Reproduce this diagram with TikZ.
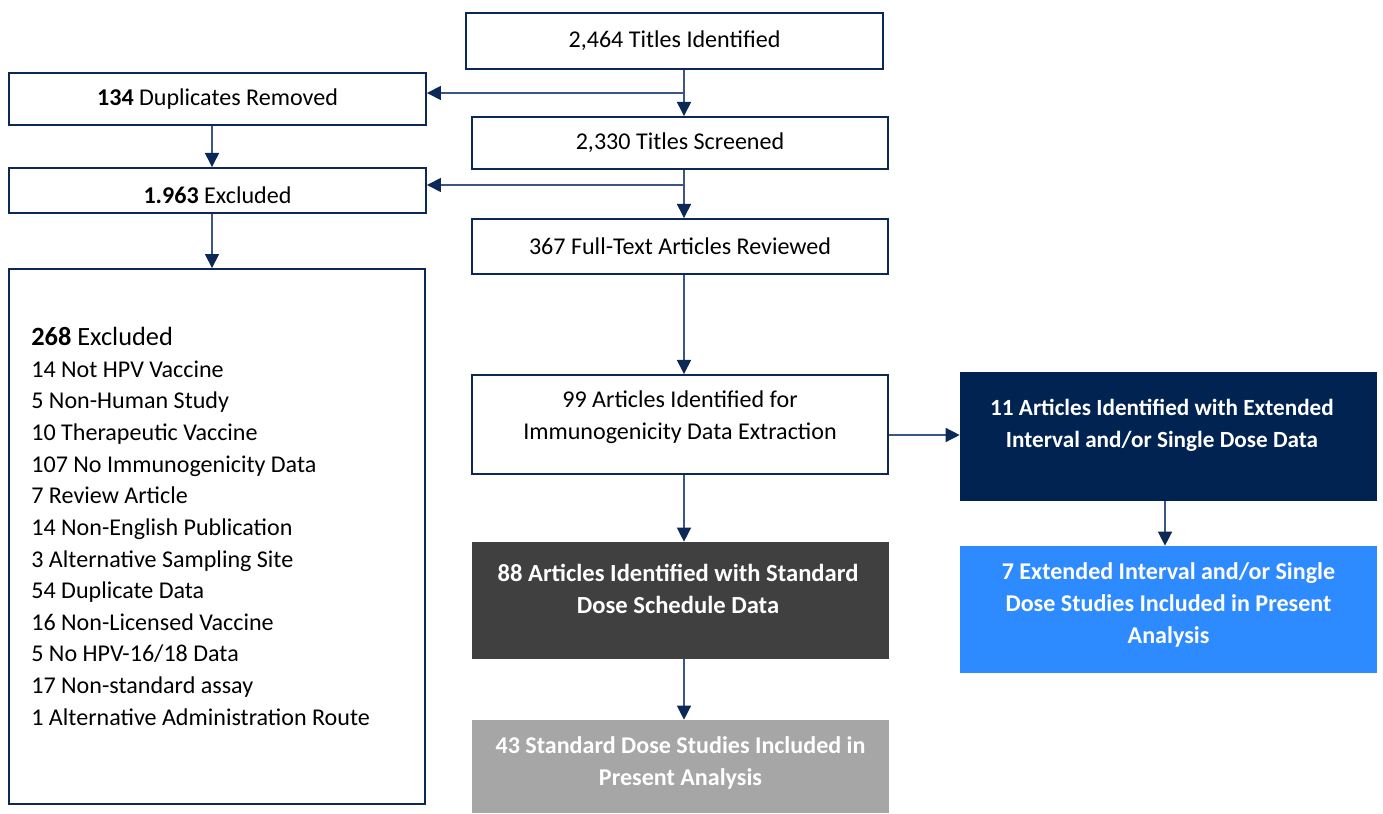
\documentclass[tikz,border=0pt]{standalone}
\usepackage{fontspec}
\setmainfont{Carlito}
\usetikzlibrary{arrows.meta}

\definecolor{navy}{HTML}{0B2856}
\definecolor{linecol}{HTML}{3B5682}
\definecolor{darkbox}{HTML}{012352}
\definecolor{graybox}{HTML}{404040}
\definecolor{lightbox}{HTML}{A6A6A6}
\definecolor{bluebox}{HTML}{2E8BFF}

\def\fs{\fontsize{13.7}{18}\selectfont}
\def\fb{\fontsize{13.7}{18}\selectfont\bfseries}

\tikzset{
 box/.style={draw=navy, line width=1.1pt, fill=white, inner sep=0pt, font=\fs, align=center},
 fillbox/.style={draw=none, fill=#1, inner sep=0pt},
 blacktxt/.style={font=\fs, align=center, inner sep=0pt},
 whitetxt/.style={text=white, font=\fb, align=center, inner sep=0pt},
 arr/.style={draw=linecol, line width=0.8pt, -{Triangle[width=8pt,length=8pt,color=navy]}}
}

\begin{document}
\begin{tikzpicture}[x=0.02cm, y=-0.02cm]
 \useasboundingbox (0,0) rectangle (1383,814);
 % Centre column
 \node[box, minimum width=8.34cm, minimum height=1.12cm] (ident) at (674.5,41) {2,464 Titles Identified};
 \node[box, minimum width=8.32cm, minimum height=1.04cm] (screen) at (680,143) {2,330 Titles Screened};
 \node[box, minimum width=8.32cm, minimum height=1.10cm] (full) at (680,246.5) {367 Full-Text Articles Reviewed};
 \node[box, minimum width=8.32cm, minimum height=1.98cm] (ident99) at (680,424.5) {};
 \node[blacktxt] (ident99txt) at (680,417) {99 Articles Identified for\\Immunogenicity Data Extraction};
 \node[fillbox=graybox, minimum width=8.34cm, minimum height=2.34cm] (std88) at (680.5,600.5) {};
 \node[whitetxt, font=\fontsize{14}{18}\selectfont\bfseries] (std88txt) at (678,589) {88 Articles Identified with Standard\\Dose Schedule Data};
 \node[fillbox=lightbox, minimum width=8.34cm, minimum height=1.86cm] (std43) at (680.5,766.5) {};
 \node[whitetxt] (std43txt) at (680.5,763) {43 Standard Dose Studies Included in\\Present Analysis};
 % Left column
 \node[box, minimum width=8.34cm, minimum height=1.04cm] (dup) at (217.5,99) {\textbf{134} Duplicates Removed};
 \node[box, minimum width=8.34cm, minimum height=0.90cm] (excl) at (217.5,190.5) {};
 \node[blacktxt] (excltxt) at (217.5,195) {\textbf{1.963} Excluded};
 \node[box, minimum width=8.32cm, minimum height=10.70cm] (reasons) at (217,536.5) {};
 \node[anchor=north west, inner sep=0pt, font=\fs, align=left] (reasonstxt) at (31,327)
  {{\fontsize{15}{18}\selectfont\textbf{268} Excluded}\\
   14 Not HPV Vaccine\\
   5 Non-Human Study\\
   10 Therapeutic Vaccine\\
   107 No Immunogenicity Data\\
   7 Review Article\\
   14 Non-English Publication\\
   3 Alternative Sampling Site\\
   54 Duplicate Data\\
   16 Non-Licensed Vaccine\\
   5 No HPV-16/18 Data\\
   17 Non-standard assay\\
   1 Alternative Administration Route};
 % Right column
 \node[fillbox=darkbox, minimum width=8.34cm, minimum height=2.58cm] (ext11) at (1168.5,436.5) {};
 \node[whitetxt, font=\fontsize{13.2}{18}\selectfont\bfseries] (ext11txt) at (1162,425.5) {11 Articles Identified with Extended\\Interval and/or Single Dose Data};
 \node[fillbox=bluebox, minimum width=8.34cm, minimum height=2.54cm] (ext7) at (1168.5,609.5) {};
 \node[whitetxt] (ext7txt) at (1168.5,605) {7 Extended Interval and/or Single\\Dose Studies Included in Present\\Analysis};
 % Connector lines
 \coordinate (mainx) at (684,0);
 \coordinate (leftx) at (212,0);
 \coordinate (rightx) at (1165,0);
 \coordinate (br1) at (684,93);
 \coordinate (br2) at (684,185);
 \coordinate (midy) at (0,435);
 \draw[arr] (ident.south -| mainx) -- (screen.north -| mainx);
 \draw[arr] (br1) -- (br1 -| dup.east);
 \draw[arr] (screen.south -| mainx) -- (full.north -| mainx);
 \draw[arr] (br2) -- (br2 -| excl.east);
 \draw[arr] (full.south -| mainx) -- (ident99.north -| mainx);
 \draw[arr] (ident99.south -| mainx) -- (std88.north -| mainx);
 \draw[arr] (std88.south -| mainx) -- (std43.north -| mainx);
 \draw[arr] (ident99.east |- midy) -- (ext11.west |- midy);
 \draw[arr] (ext11.south -| rightx) -- (ext7.north -| rightx);
 \draw[arr] (dup.south -| leftx) -- (excl.north -| leftx);
 \draw[arr] (excl.south -| leftx) -- (reasons.north -| leftx);
\end{tikzpicture}
\end{document}
